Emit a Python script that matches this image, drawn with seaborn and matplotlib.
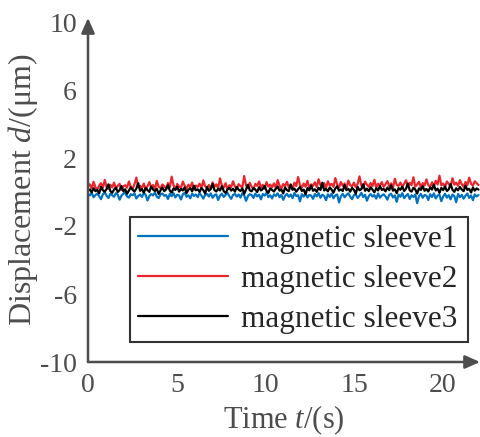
import numpy as np
import pandas as pd
import matplotlib
matplotlib.use("Agg")
import matplotlib.pyplot as plt
import seaborn as sns

# señales (paso de 0.1 s, 0 a 22 s)
sleeve1 = [
    -0.12, -0.20, -0.05, -0.31, -0.18, -0.09, -0.25, -0.42, -0.14, -0.02, -0.22, -0.35, -0.11, -0.19, -0.28, -0.07, -0.16, -0.45, -0.21, -0.10,
    -0.04, -0.26, -0.33, -0.13, -0.19, -0.08, -0.38, -0.24, -0.15, -0.29, -0.06, -0.17, -0.50, -0.23, -0.12, -0.20, -0.03, -0.27, -0.36, -0.14,
    -0.09, -0.22, -0.18, -0.41, -0.11, -0.25, -0.07, -0.32, -0.16, -0.20, -0.44, -0.13, -0.05, -0.28, -0.19, -0.37, -0.10, -0.23, -0.15, -0.30,
    -0.06, -0.21, -0.39, -0.17, -0.12, -0.26, -0.08, -0.34, -0.19, -0.14, -0.47, -0.22, -0.10, -0.29, -0.16, -0.04, -0.25, -0.40, -0.18, -0.11,
    -0.27, -0.15, -0.33, -0.07, -0.20, -0.52, -0.24, -0.13, -0.18, -0.35, -0.09, -0.26, -0.16, -0.43, -0.12, -0.21, -0.05, -0.30, -0.19, -0.38,
    -0.14, -0.23, -0.08, -0.31, -0.17, -0.46, -0.22, -0.11, -0.28, -0.15, -0.36, -0.06, -0.24, -0.19, -0.55, -0.13, -0.27, -0.09, -0.32, -0.18,
    -0.21, -0.40, -0.12, -0.26, -0.07, -0.34, -0.16, -0.23, -0.48, -0.14, -0.29, -0.10, -0.37, -0.20, -0.15, -0.62, -0.25, -0.11, -0.31, -0.17,
    -0.08, -0.28, -0.42, -0.19, -0.13, -0.35, -0.22, -0.05, -0.30, -0.16, -0.51, -0.24, -0.12, -0.27, -0.18, -0.39, -0.09, -0.33, -0.21, -0.14,
    -0.26, -0.45, -0.17, -0.10, -0.32, -0.20, -0.58, -0.15, -0.28, -0.07, -0.36, -0.23, -0.12, -0.41, -0.19, -0.30, -0.14, -0.66, -0.25, -0.11,
    -0.34, -0.18, -0.22, -0.47, -0.13, -0.29, -0.08, -0.38, -0.21, -0.16, -0.54, -0.27, -0.10, -0.33, -0.19, -0.43, -0.15, -0.24, -0.60, -0.12,
    -0.30, -0.17, -0.39, -0.22, -0.09, -0.35, -0.20, -0.48, -0.14, -0.26, -0.18,
]
sleeve2 = [
    0.32, 0.45, 0.21, 0.60, 0.28, 0.15, 0.38, 0.52, 0.24, 0.71, 0.30, 0.18, 0.42, 0.27, 0.55, 0.20, 0.36, 0.48, 0.12, 0.33,
    0.40, 0.25, 0.62, 0.31, 0.19, 0.46, 0.85, 0.29, 0.37, 0.22, 0.50, 0.14, 0.34, 0.58, 0.26, 0.41, 0.17, 0.65, 0.30, 0.23,
    0.44, 0.35, 0.20, 0.53, 0.28, 0.90, 0.39, 0.16, 0.47, 0.32, 0.24, 0.61, 0.36, 0.19, 0.43, 0.27, 0.56, 0.13, 0.38, 0.30,
    0.49, 0.22, 0.68, 0.34, 0.26, 0.41, 0.18, 0.57, 0.31, 0.45, 0.21, 0.80, 0.37, 0.25, 0.52, 0.15, 0.40, 0.29, 0.63, 0.33,
    0.20, 0.46, 0.35, 0.27, 0.94, 0.39, 0.23, 0.54, 0.30, 0.17, 0.48, 0.36, 0.62, 0.25, 0.42, 0.19, 0.58, 0.32, 0.44, 0.28,
    0.51, 0.24, 0.70, 0.38, 0.21, 0.47, 0.33, 0.60, 0.27, 0.43, 0.16, 0.55, 0.35, 0.88, 0.40, 0.26, 0.50, 0.31, 0.66, 0.22,
    0.45, 0.37, 0.57, 0.29, 0.75, 0.41, 0.34, 0.52, 0.24, 0.63, 0.39, 0.48, 0.30, 0.82, 0.44, 0.27, 0.59, 0.36, 0.50, 0.21,
    0.67, 0.40, 0.33, 0.55, 0.28, 0.47, 0.92, 0.38, 0.25, 0.61, 0.43, 0.31, 0.53, 0.35, 0.72, 0.26, 0.49, 0.37, 0.58, 0.30,
    0.46, 0.64, 0.34, 0.51, 0.23, 0.78, 0.42, 0.36, 0.56, 0.29, 0.48, 0.69, 0.33, 0.54, 0.40, 0.87, 0.32, 0.45, 0.60, 0.27,
    0.52, 0.38, 0.74, 0.41, 0.30, 0.57, 0.35, 0.66, 0.44, 0.96, 0.39, 0.50, 0.28, 0.62, 0.47, 0.34, 0.81, 0.43, 0.55, 0.36,
    0.70, 0.45, 0.31, 0.59, 0.40, 0.84, 0.48, 0.37, 0.63, 0.52, 0.41,
]
sleeve3 = [
    0.08, 0.15, -0.02, 0.22, 0.05, 0.12, -0.08, 0.30, 0.10, 0.02, 0.18, 0.45, 0.06, -0.05, 0.14, 0.25, 0.00, 0.11, 0.35, 0.04,
    0.16, -0.10, 0.09, 0.28, 0.13, 0.03, 0.20, 0.52, 0.07, 0.17, -0.04, 0.24, 0.11, 0.01, 0.33, 0.14, 0.06, 0.19, -0.12, 0.10,
    0.26, 0.05, 0.15, 0.40, 0.08, -0.03, 0.21, 0.12, 0.31, 0.02, 0.18, 0.09, 0.27, -0.07, 0.13, 0.22, 0.04, 0.37, 0.10, 0.16,
    0.01, 0.23, 0.11, -0.09, 0.29, 0.07, 0.17, 0.48, 0.12, 0.03, 0.20, 0.09, 0.34, 0.05, -0.06, 0.15, 0.25, 0.08, 0.19, 0.02,
    0.30, 0.13, 0.06, 0.21, -0.11, 0.16, 0.42, 0.10, 0.04, 0.24, 0.14, 0.00, 0.28, 0.09, 0.18, 0.36, 0.07, -0.05, 0.22, 0.12,
    0.03, 0.19, 0.32, 0.08, 0.15, -0.08, 0.26, 0.11, 0.05, 0.44, 0.13, 0.20, 0.02, 0.17, 0.29, 0.06, 0.14, -0.13, 0.23, 0.10,
    0.38, 0.07, 0.16, 0.01, 0.25, 0.12, 0.55, 0.09, 0.18, 0.04, 0.27, 0.14, -0.04, 0.21, 0.33, 0.08, 0.15, 0.06, 0.41, 0.11,
    0.19, 0.02, 0.24, 0.13, -0.10, 0.30, 0.10, 0.17, 0.46, 0.07, 0.20, 0.05, 0.28, 0.14, -0.02, 0.22, 0.09, 0.35, 0.12, 0.18,
    0.04, 0.26, 0.11, 0.39, 0.08, 0.16, -0.07, 0.23, 0.13, 0.31, 0.06, 0.19, 0.50, 0.10, 0.02, 0.25, 0.15, -0.09, 0.21, 0.12,
    0.34, 0.07, 0.18, 0.03, 0.27, 0.14, 0.43, 0.09, 0.20, -0.05, 0.24, 0.11, 0.32, 0.06, 0.16, 0.47, 0.13, 0.01, 0.22, 0.10,
    0.29, 0.15, 0.05, 0.37, 0.12, 0.19, -0.03, 0.26, 0.08, 0.21, 0.14,
]
time = np.linspace(0, 22, len(sleeve1))

series_names = ['magnetic sleeve1', 'magnetic sleeve2', 'magnetic sleeve3']
series_colors = ['#0072BD', '#E8262B', '#000000']
x_ticklabels = ['0', '5', '10', '15', '20']
y_ticklabels = ['-10', '-6', '-2', '2', '6', '10']

df = pd.concat([
    pd.DataFrame({'t': time, 'd': vals, 'serie': name})
    for name, vals in zip(series_names, [sleeve1, sleeve2, sleeve3])
])

sns.set_style('white')
plt.rcParams['font.family'] = ['Liberation Serif', 'DejaVu Serif']
plt.rcParams['mathtext.fontset'] = 'custom'
plt.rcParams['mathtext.rm'] = 'Liberation Serif'
plt.rcParams['mathtext.it'] = 'Liberation Serif:italic'

gris = '#4d4d4d'
fig = plt.figure(figsize=(4.81, 4.37), dpi=100)
ax = fig.add_axes([88 / 481, 75 / 437, 392 / 481, 344 / 437])

sns.lineplot(data=df, x='t', y='d', hue='serie', palette=series_colors,
             hue_order=series_names, linewidth=1.6, ax=ax, estimator=None)

ax.set_xlim(0, 392 / 17.75)
ax.set_ylim(-10, 10 + 4 / 17)

# ejes con flechas
for s in ['top', 'right', 'left', 'bottom']:
    ax.spines[s].set_visible(False)
ax.annotate('', xy=(1.0, 0), xytext=(0, 0), xycoords='axes fraction',
            arrowprops=dict(arrowstyle='-|>,head_length=0.9,head_width=0.4',
                            color=gris, lw=1.8, shrinkA=0, shrinkB=0))
ax.annotate('', xy=(0, 1.0), xytext=(0, 0), xycoords='axes fraction',
            arrowprops=dict(arrowstyle='-|>,head_length=0.9,head_width=0.4',
                            color=gris, lw=1.8, shrinkA=0, shrinkB=0))

ax.set_xticks([0, 5, 10, 15, 20])
ax.set_xticklabels(x_ticklabels)
ax.set_yticks([-10, -6, -2, 2, 6, 10])
ax.set_yticklabels(y_ticklabels)
ax.tick_params(axis='both', which='major', length=0, labelsize=20,
               labelcolor=gris, pad=8)
ax.set_xticks([1.1, 5, 10, 19], minor=True)
ax.set_yticks([-8, -6, -4, -2, 0, 2, 4, 6, 8.6], minor=True)
ax.tick_params(axis='both', which='minor', direction='in', length=5,
               width=1.2, color=gris)

ax.set_xlabel(r'Time $t$/(s)', fontsize=22, color=gris, labelpad=4)
ax.set_ylabel(r'Displacement $d$/(μm)', fontsize=23, color=gris, labelpad=0)

leg = ax.legend(loc='upper left', bbox_to_anchor=(0.107, 0.4215, 0.862, 0.0),
                mode='expand', borderaxespad=0, fontsize=22.5, frameon=True,
                fancybox=False, handlelength=2.9, handletextpad=0.4,
                labelspacing=0.36, borderpad=0.25, title=None)
leg.get_frame().set_edgecolor('black')
leg.get_frame().set_linewidth(1.5)
for line in leg.get_lines():
    line.set_linewidth(1.6)

fig.savefig('out.png', dpi=100)
